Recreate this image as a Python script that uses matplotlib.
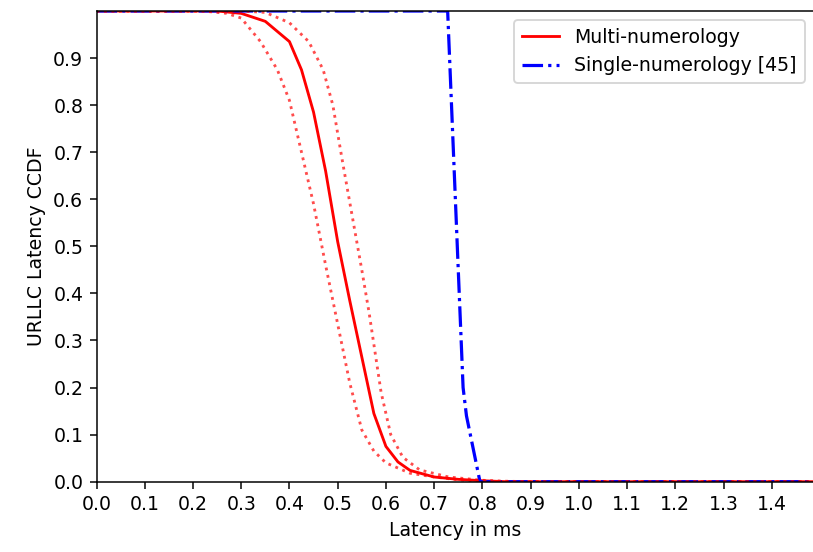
import numpy as np
import matplotlib
matplotlib.use("Agg")
import matplotlib.pyplot as plt

# Multi-numerology mean CCDF
multi_x = [0.0, 0.25, 0.30, 0.35, 0.40, 0.425, 0.45, 0.475, 0.50, 0.525, 0.55, 0.575,
           0.60, 0.625, 0.65, 0.70, 0.75, 0.80, 0.85, 1.5]
multi_y = [1.0, 1.0, 0.995, 0.978, 0.935, 0.875, 0.785, 0.66, 0.51, 0.385, 0.265, 0.145,
           0.075, 0.042, 0.024, 0.01, 0.005, 0.002, 0.0, 0.0]

# Lower / upper confidence bounds (dotted)
low_x = [0.0, 0.22, 0.27, 0.30, 0.34, 0.375, 0.40, 0.425, 0.45, 0.475, 0.50, 0.525,
         0.55, 0.575, 0.60, 0.65, 0.70, 0.75, 0.80, 0.85, 1.5]
low_y = [1.0, 1.0, 0.995, 0.985, 0.935, 0.875, 0.81, 0.70, 0.59, 0.46, 0.335, 0.21,
         0.11, 0.065, 0.04, 0.018, 0.01, 0.004, 0.001, 0.0, 0.0]
high_x = [0.0, 0.30, 0.35, 0.40, 0.44, 0.47, 0.49, 0.51, 0.53, 0.55, 0.565, 0.59,
          0.61, 0.635, 0.67, 0.73, 0.80, 0.85, 0.90, 1.5]
high_y = [1.0, 1.0, 0.997, 0.975, 0.935, 0.875, 0.80, 0.68, 0.565, 0.45, 0.36, 0.19,
          0.10, 0.052, 0.025, 0.01, 0.003, 0.001, 0.0, 0.0]

# Single-numerology [45]
single_x = [0.0, 0.728, 0.760, 0.767, 0.795, 1.5]
single_y = [1.0, 1.0, 0.20, 0.14, 0.0, 0.0]

xticks = np.round(np.arange(0, 1.5, 0.1), 1)
yticks = np.round(np.arange(0, 1.0, 0.1), 1)

fig = plt.figure(figsize=(813/136, 552/136), dpi=136)
ax = fig.add_axes([96.5/813, 1 - 481.7/552, (814 - 96.5)/813, (481.7 - 11)/552])

ax.plot(multi_x, multi_y, color='red', lw=1.5, label='Multi-numerology')
ax.plot(single_x, single_y, color='blue', lw=1.7, ls='-.', label='Single-numerology [45]')
ax.plot(low_x, low_y, color='red', lw=1.5, ls=':', alpha=0.7)
ax.plot(high_x, high_y, color='red', lw=1.5, ls=':', alpha=0.7)

ax.set_xlim(0, 1.4875)
ax.set_ylim(0, 1.0)
ax.set_xticks(xticks)
ax.set_yticks(yticks)
ax.set_xlabel('Latency in ms')
ax.set_ylabel('URLLC Latency CCDF')
ax.legend(loc='upper right')

fig.savefig('out.png', dpi=136)
